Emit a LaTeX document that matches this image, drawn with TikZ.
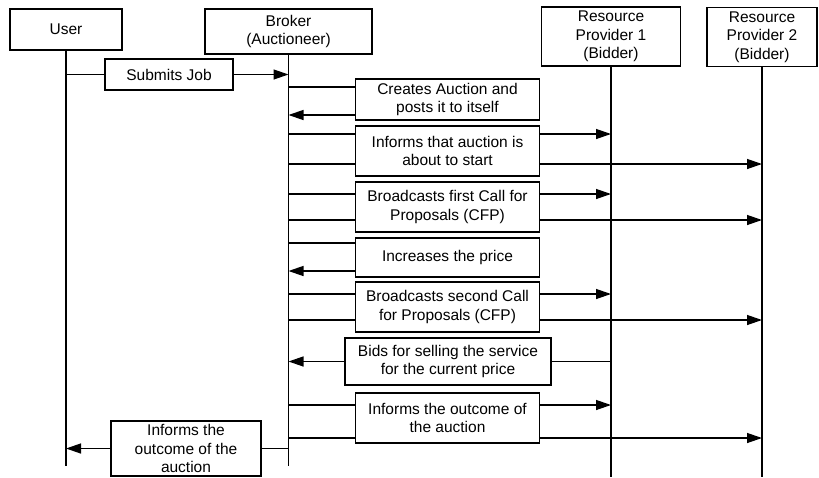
\documentclass[tikz,border=0pt]{standalone}
\usepackage{fontspec}
\setmainfont{Liberation Sans}
\usetikzlibrary{arrows.meta}
\tikzset{
  box/.style={draw, line width=1.3pt, inner sep=0pt, align=center,
    font=\fontsize{15.5}{18.5}\selectfont},
  life/.style={line width=1.3pt},
  msg/.style={line width=1.3pt},
  tomsg/.style={line width=1.3pt, arrows={-Triangle[length=15pt,width=10pt]}}
}

\begin{document}
\begin{tikzpicture}[x=1pt,y=-1pt]
        \useasboundingbox (0,0) rectangle (819,477);
        % Draw the participants
        \node[box, minimum width=112pt, minimum height=41pt] (user) at (66,29.5) {User};
        \node[box, minimum width=167pt, minimum height=45pt] (bro) at (288.5,31.5) {Broker\\(Auctioneer)};
        \node[box, minimum width=139pt, minimum height=59pt] (rp1) at (611,36.5) {Resource\\Provider 1\\(Bidder)};
        \node[box, minimum width=110pt, minimum height=59pt] (rp2) at (762,37) {Resource\\Provider 2\\(Bidder)};
        % Draw the lifelines
        \coordinate (userend) at (66.5,466);
        \coordinate (broend) at (289,466);
        \coordinate (rp1end) at (612,477);
        \coordinate (rp2end) at (762.5,477);
        \draw[life] (user.south) -- (user.south |- userend);
        \draw[life] (bro.south) -- (bro.south |- broend);
        \draw[life] (rp1.south) -- (rp1.south |- rp1end);
        \draw[life] (rp2.south) -- (rp2.south |- rp2end);
        % Insert the message boxes
        \node[box, minimum width=128pt, minimum height=31pt] (sub) at (169,74.5) {Submits Job};
        \node[box, minimum width=184pt, minimum height=41pt] (cre) at (447.5,99.5) {Creates Auction and\\posts it to itself};
        \node[box, minimum width=184pt, minimum height=50pt] (inf1) at (447.5,151) {Informs that auction is\\about to start};
        \node[box, minimum width=184pt, minimum height=50pt] (bc1) at (447.5,207) {Broadcasts first Call for\\Proposals (CFP)};
        \node[box, minimum width=184pt, minimum height=39pt] (inc) at (447.5,257.5) {Increases the price};
        \node[box, minimum width=184pt, minimum height=50pt] (bc2) at (447.5,307) {Broadcasts second Call\\for Proposals (CFP)};
        \node[box, minimum width=206pt, minimum height=47pt] (bid) at (448,361.5) {Bids for selling the service\\for the current price};
        \node[box, minimum width=184pt, minimum height=50pt] (inf2) at (447.5,418) {Informs the outcome of\\the auction};
        \node[box, minimum width=150pt, minimum height=55pt] (inf3) at (186,448.5) {Informs the\\outcome of the\\auction};
        % Draw the messages (use arrows command to insert arrow of choice)
        \draw[msg] (user.south |- sub) -- (sub.west);
        \draw[tomsg] (sub.east) -- (bro.south |- sub);
        \draw[msg] (bro.south |- 0,87) -- (cre.west |- 0,87);
        \draw[tomsg] (cre.west |- 0,115) -- (bro.south |- 0,115);
        \draw[msg] (bro.south |- 0,134) -- (inf1.west |- 0,134);
        \draw[tomsg] (inf1.east |- 0,134) -- (rp1.south |- 0,134);
        \draw[msg] (bro.south |- 0,164) -- (inf1.west |- 0,164);
        \draw[tomsg] (inf1.east |- 0,164) -- (rp2.south |- 0,164);
        \draw[msg] (bro.south |- 0,194) -- (bc1.west |- 0,194);
        \draw[tomsg] (bc1.east |- 0,194) -- (rp1.south |- 0,194);
        \draw[msg] (bro.south |- 0,220) -- (bc1.west |- 0,220);
        \draw[tomsg] (bc1.east |- 0,220) -- (rp2.south |- 0,220);
        \draw[msg] (bro.south |- 0,243) -- (inc.west |- 0,243);
        \draw[tomsg] (inc.west |- 0,271) -- (bro.south |- 0,271);
        \draw[msg] (bro.south |- 0,294) -- (bc2.west |- 0,294);
        \draw[tomsg] (bc2.east |- 0,294) -- (rp1.south |- 0,294);
        \draw[msg] (bro.south |- 0,320) -- (bc2.west |- 0,320);
        \draw[tomsg] (bc2.east |- 0,320) -- (rp2.south |- 0,320);
        \draw[msg] (rp1.south |- bid) -- (bid.east);
        \draw[tomsg] (bid.west) -- (bro.south |- bid);
        \draw[msg] (bro.south |- 0,405) -- (inf2.west |- 0,405);
        \draw[tomsg] (inf2.east |- 0,405) -- (rp1.south |- 0,405);
        \draw[msg] (bro.south |- 0,438) -- (inf2.west |- 0,438);
        \draw[tomsg] (inf2.east |- 0,438) -- (rp2.south |- 0,438);
        \draw[msg] (bro.south |- inf3) -- (inf3.east);
        \draw[tomsg] (inf3.west) -- (user.south |- inf3);
      \end{tikzpicture}
\end{document}
